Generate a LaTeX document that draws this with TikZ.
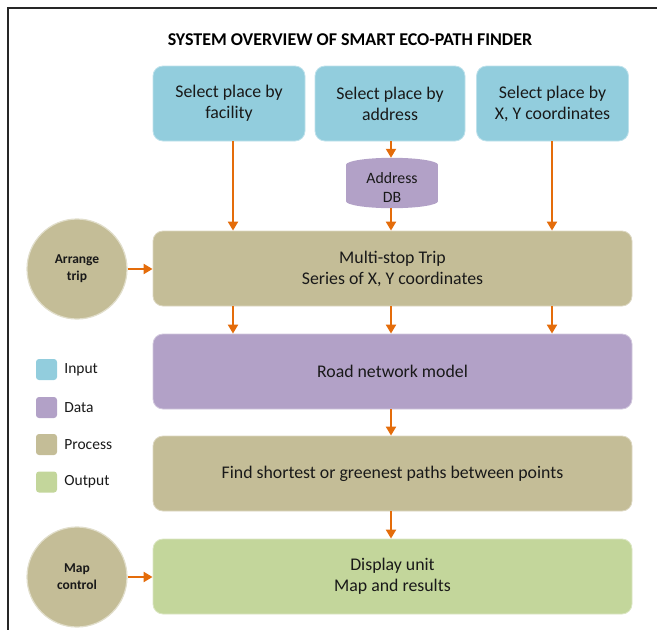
\documentclass[tikz,border=0pt]{standalone}
\usepackage{fontspec}
\setmainfont{Carlito}
\usetikzlibrary{arrows.meta,calc}
\definecolor{inpc}{RGB}{146,205,221}
\definecolor{datac}{RGB}{178,161,199}
\definecolor{procc}{RGB}{196,189,151}
\definecolor{outc}{RGB}{195,214,155}
\definecolor{arrc}{RGB}{228,108,10}
\definecolor{txtc}{RGB}{25,25,25}
\begin{document}
\begin{tikzpicture}[x=1pt,y=-1pt,
  box/.style={rectangle,rounded corners=10pt,minimum height=75pt,align=center,
    font=\fontsize{17.8}{21}\selectfont,text=txtc,line width=0.8pt},
  inbox/.style={box,fill=inpc,draw=inpc!60!white,minimum width=152pt},
  widebox/.style={box,minimum width=479pt},
  circ/.style={circle,minimum size=100pt,fill=procc,draw=procc!50!white,line width=1.2pt,
    align=center,font=\bfseries\fontsize{13.5}{17}\selectfont,text=txtc},
  legsq/.style={rectangle,rounded corners=3pt,minimum size=21pt,inner sep=0pt},
  legtxt/.style={anchor=west,font=\fontsize{15.5}{17}\selectfont,text=txtc,inner sep=0pt},
  arr/.style={draw=arrc,line width=2pt,-{Triangle[width=10pt,length=9pt]}}
]
\useasboundingbox (0,0) rectangle (657,630);
\draw[line width=1.5pt,black!85] (8,630) -- (8,8) -- (657,8);

\node[font=\bfseries\fontsize{18}{20}\selectfont,text=black] (title) at (350,40) {SYSTEM OVERVIEW OF SMART ECO-PATH FINDER};

\node[inbox] (in1) at (229,103.5) {Select place by\\facility};
\node[inbox,minimum width=150pt] (in2) at (390,103.5) {Select place by\\address};
\node[inbox] (in3) at (552.5,103.5) {Select place by\\X, Y coordinates};

% Address DB cylinder
\node[minimum width=92pt,minimum height=50pt,inner sep=0pt] (addr) at (392,183) {};
\fill[datac] ($(addr.north)+(0,7)$) ellipse[x radius=46pt,y radius=7pt];
\fill[datac] ($(addr.south)+(0,-7)$) ellipse[x radius=46pt,y radius=7pt];
\fill[datac] ($(addr.north west)+(0,7)$) rectangle ($(addr.south east)+(0,-7)$);
\node[align=center,font=\fontsize{15.8}{19}\selectfont,text=txtc] at ($(addr.center)+(0,5)$) {Address\\DB};

\node[widebox,fill=procc,draw=procc!60!white] (trip) at (392.5,268.5) {Multi-stop Trip\\Series of X, Y coordinates};
\node[widebox,fill=datac,draw=datac!60!white] (road) at (392.5,371.5) {Road network model};
\node[widebox,fill=procc,draw=procc!60!white] (find) at (392.5,473.5) {Find shortest or greenest paths between points};
\node[widebox,fill=outc,draw=outc!60!white] (disp) at (392.5,576.5) {Display unit\\Map and results};

\node[circ] (arrange) at (77,269) {Arrange\\trip};
\node[circ] (mapc) at (77,577) {Map\\control};

% legend
\node[legsq,fill=inpc] (l1) at (46.5,369.5) {};
\node[legsq,fill=datac] (l2) at (46.5,407.5) {};
\node[legsq,fill=procc] (l3) at (46.5,444.5) {};
\node[legsq,fill=outc] (l4) at (46.5,482) {};
\node[legtxt] at ($(l1.east)+(7,0)$) {Input};
\node[legtxt] at ($(l2.east)+(7,0)$) {Data};
\node[legtxt] at ($(l3.east)+(7,0)$) {Process};
\node[legtxt] at ($(l4.east)+(7,0)$) {Output};

% arrows
\coordinate (c1) at (233,0);
\coordinate (c2) at (391,0);
\coordinate (c3) at (552,0);
\draw[arr] (in1.south -| c1) -- (trip.north -| c1);
\draw[arr] (in2.south -| c2) -- (addr.north -| c2);
\draw[arr] (addr.south -| c2) -- (trip.north -| c2);
\draw[arr] (in3.south -| c3) -- (trip.north -| c3);
\draw[arr] (trip.south -| c1) -- (road.north -| c1);
\draw[arr] (trip.south -| c2) -- (road.north -| c2);
\draw[arr] (trip.south -| c3) -- (road.north -| c3);
\draw[arr] (road.south -| c2) -- (find.north -| c2);
\draw[arr] (find.south -| c2) -- (disp.north -| c2);
\draw[arr] (arrange.east) -- (arrange.east -| trip.west);
\draw[arr] (mapc.east) -- (mapc.east -| disp.west);
\end{tikzpicture}
\end{document}
